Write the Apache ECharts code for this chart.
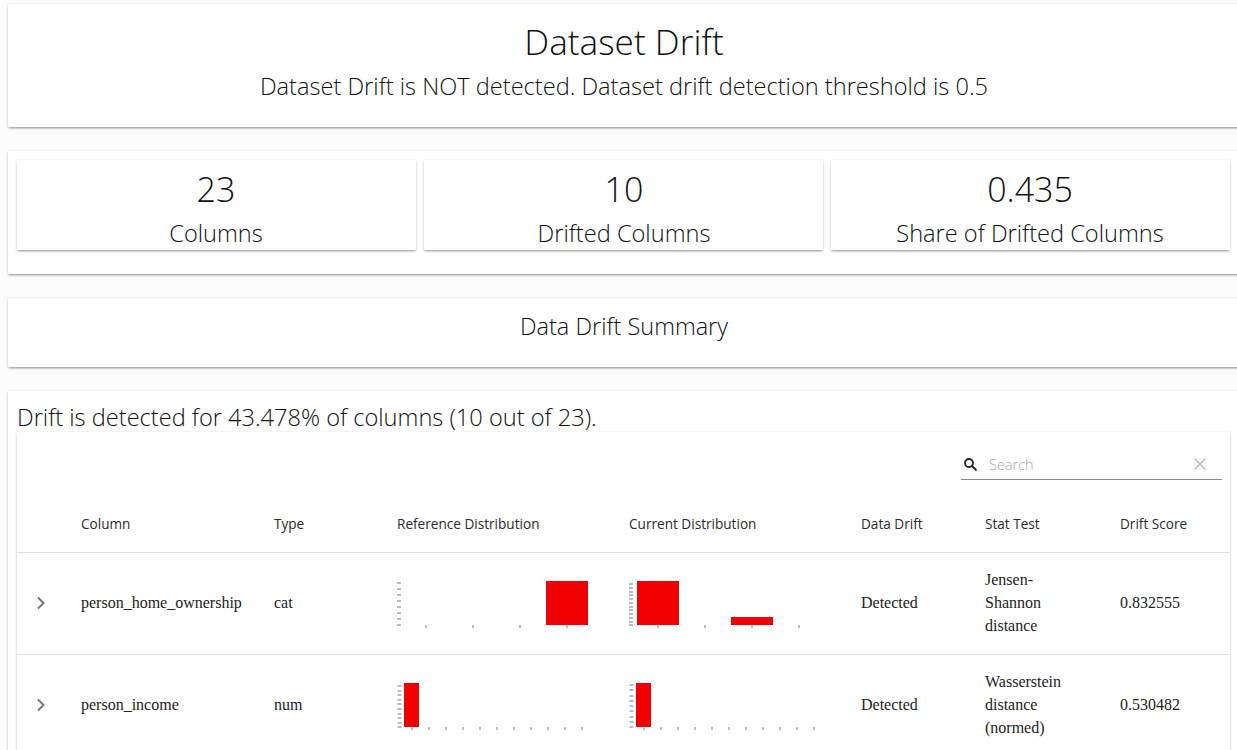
<!DOCTYPE html>
<html>
<head>
<meta charset="utf-8">
<script src="https://cdn.jsdelivr.net/npm/echarts@6/dist/echarts.min.js"></script>
<style>
    html, body { margin: 0; padding: 0; width: 1237px; height: 750px; overflow: hidden; background: #fcfcfc; }
    body { position: relative; font-family: "Open Sans", sans-serif; font-weight: 300; color: #111; }
    .paper { position: absolute; background: #fff; box-shadow: 0 2px 2px -1px rgba(0,0,0,.3), 0 1px 3px 0 rgba(0,0,0,.18), 0 0 1px rgba(0,0,0,.06); }
    .txt { position: absolute; white-space: nowrap; transform: translate(-50%, -50%); }
    .left { transform: translate(0, -50%); }
    .head { font-size: 13.6px; font-weight: 500; color: #2a2a2a; margin-top: -1px; }
    .cell { font-family: "Liberation Serif", serif; font-size: 16px; font-weight: 400; color: #222; }
    .wrap { line-height: 23px; white-space: pre; margin-top: -1px; }
    .rule { position: absolute; height: 1px; background: #e0e0e0; left: 17px; width: 1213px; }
    .mini { position: absolute; width: 210px; height: 56px; }
    svg { position: absolute; }
</style>
</head>
<body>
    <div class="paper" style="left:8px;top:4px;width:1240px;height:123px"></div>
    <div class="txt" style="left:624px;top:41px;font-size:35.2px">Dataset Drift</div>
    <div class="txt" style="left:624px;top:86px;font-size:23.6px">Dataset Drift is NOT detected. Dataset drift detection threshold is 0.5</div>

    <div class="paper" style="left:8px;top:151px;width:1240px;height:123px"></div>
    <div class="paper" style="left:17px;top:160px;width:399px;height:90px"></div>
    <div class="paper" style="left:424px;top:160px;width:399px;height:90px"></div>
    <div class="paper" style="left:831px;top:160px;width:399px;height:90px"></div>
    <div class="txt" style="left:216px;top:189px;font-size:34px">23</div>
    <div class="txt" style="left:624px;top:189px;font-size:34px">10</div>
    <div class="txt" style="left:1030px;top:189px;font-size:34px">0.435</div>
    <div class="txt" style="left:216px;top:233px;font-size:23.6px">Columns</div>
    <div class="txt" style="left:624px;top:233px;font-size:23.6px">Drifted Columns</div>
    <div class="txt" style="left:1030px;top:233px;font-size:23.6px">Share of Drifted Columns</div>

    <div class="paper" style="left:8px;top:298px;width:1240px;height:69px"></div>
    <div class="txt" style="left:624px;top:326px;font-size:23.5px">Data Drift Summary</div>

    <div class="paper" style="left:8px;top:391px;width:1240px;height:380px"></div>
    <div class="txt left" style="left:17px;top:417px;font-size:23.6px">Drift is detected for 43.478% of columns (10 out of 23).</div>
    <div class="paper" style="left:17px;top:432px;width:1213px;height:340px"></div>

    <svg style="left:961px;top:455px" width="20" height="20" viewBox="0 0 20 20" fill="none" stroke="#222" stroke-width="1.8"><circle cx="8" cy="8" r="4"/><path d="M11 11l4.5 4.5"/></svg>
    <div class="txt left" style="left:989px;top:464px;font-size:14.5px;color:#a8a8a8">Search</div>
    <svg style="left:1192px;top:456px" width="16" height="16" viewBox="0 0 16 16" fill="none" stroke="#bdbdbd" stroke-width="1.5"><path d="M2.5 2.5l11 11M13.5 2.5l-11 11"/></svg>
    <div class="rule" style="left:961px;width:261px;top:479px;background:#8a8a8a"></div>

    <div class="txt left head" style="left:81px;top:524px">Column</div>
    <div class="txt left head" style="left:274px;top:524px">Type</div>
    <div class="txt left head" style="left:397px;top:524px">Reference Distribution</div>
    <div class="txt left head" style="left:629px;top:524px">Current Distribution</div>
    <div class="txt left head" style="left:861px;top:524px">Data Drift</div>
    <div class="txt left head" style="left:985px;top:524px">Stat Test</div>
    <div class="txt left head" style="left:1120px;top:524px">Drift Score</div>
    <div class="rule" style="top:552px"></div>
    <div class="rule" style="top:654px"></div>

    <svg style="left:33px;top:595px" width="16" height="16" viewBox="0 0 16 16" fill="none" stroke="#757575" stroke-width="1.9"><path d="M5 2.5l5.5 5.5-5.5 5.5"/></svg>
    <div class="txt left cell" style="left:81px;top:603px">person_home_ownership</div>
    <div class="txt left cell" style="left:274px;top:603px">cat</div>
    <div class="txt left cell" style="left:861px;top:603px">Detected</div>
    <div class="txt left cell wrap" style="left:985px;top:603px">Jensen-
Shannon
distance</div>
    <div class="txt left cell" style="left:1120px;top:603px">0.832555</div>

    <svg style="left:33px;top:697px" width="16" height="16" viewBox="0 0 16 16" fill="none" stroke="#757575" stroke-width="1.9"><path d="M5 2.5l5.5 5.5-5.5 5.5"/></svg>
    <div class="txt left cell" style="left:81px;top:705px">person_income</div>
    <div class="txt left cell" style="left:274px;top:705px">num</div>
    <div class="txt left cell" style="left:861px;top:705px">Detected</div>
    <div class="txt left cell wrap" style="left:985px;top:705px">Wasserstein
distance
(normed)</div>
    <div class="txt left cell" style="left:1120px;top:705px">0.530482</div>

    <div id="homeRef" class="mini" style="left:390px;top:575px"></div>
    <div id="homeCur" class="mini" style="left:622px;top:575px"></div>
    <div id="incomeRef" class="mini" style="left:390px;top:677px"></div>
    <div id="incomeCur" class="mini" style="left:622px;top:677px"></div>

<script>
    // 分类分布
    var homeBins = ['RENT', 'MORTGAGE', 'OTHER', 'OWN']
    var homeRefValues = [0, 0, 0, 22000]
    var homeCurValues = [11800, 0, 2150, 0]
    // 收入分布（11个区间）
    var incomeBins = ['0', '1', '2', '3', '4', '5', '6', '7', '8', '9', '10']
    var incomeRefValues = [19300, 0, 0, 0, 0, 0, 0, 0, 0, 0, 0]
    var incomeCurValues = [16700, 0, 0, 0, 0, 0, 0, 0, 0, 0, 0]
    // y轴刻度
    var homeRefTicks = [0, 3000, 6000, 9000, 12000, 15000, 18000, 21000]
    var homeCurTicks = [0, 1000, 2000, 3000, 4000, 5000, 6000, 7000, 8000, 9000, 10000, 11000]
    var incomeRefTicks = [0, 2000, 4000, 6000, 8000, 10000, 12000, 14000, 16000, 18000]
    var incomeCurTicks = [0, 2000, 4000, 6000, 8000, 10000, 12000, 14000, 16000]

    function drawMini(id, bins, values, ticks, barWidth, gridLeft, gridWidth) {
        var myChart = echarts.init(document.getElementById(id))
        var option = {
            animation: false,
            grid: { left: gridLeft, top: 6, width: gridWidth, height: 44 },
            xAxis: {
                type: 'category',
                data: bins,
                axisLine: { show: false },
                axisLabel: { show: false },
                axisTick: { show: true, interval: 0, alignWithLabel: true, length: 3, lineStyle: { color: '#bbbbbb', width: 2 } }
            },
            yAxis: {
                type: 'value',
                min: 0,
                max: Math.max.apply(null, values),
                offset: 1.5,
                splitLine: { show: false },
                axisLine: { show: false },
                axisLabel: { show: false },
                axisTick: { show: true, customValues: ticks, length: 4, lineStyle: { color: '#bbbbbb', width: 2 } }
            },
            series: [{
                type: 'bar',
                data: values,
                barWidth: barWidth,
                itemStyle: { color: '#f00000' }
            }]
        }
        myChart.setOption(option)
    }

    drawMini('homeRef', homeBins, homeRefValues, homeRefTicks, 42, 12.5, 188)
    drawMini('homeCur', homeBins, homeCurValues, homeCurTicks, 42, 12.5, 188)
    drawMini('incomeRef', incomeBins, incomeRefValues, incomeRefTicks, 15, 13, 187)
    drawMini('incomeCur', incomeBins, incomeCurValues, incomeCurTicks, 15, 13, 187)
</script>
</body>
</html>
